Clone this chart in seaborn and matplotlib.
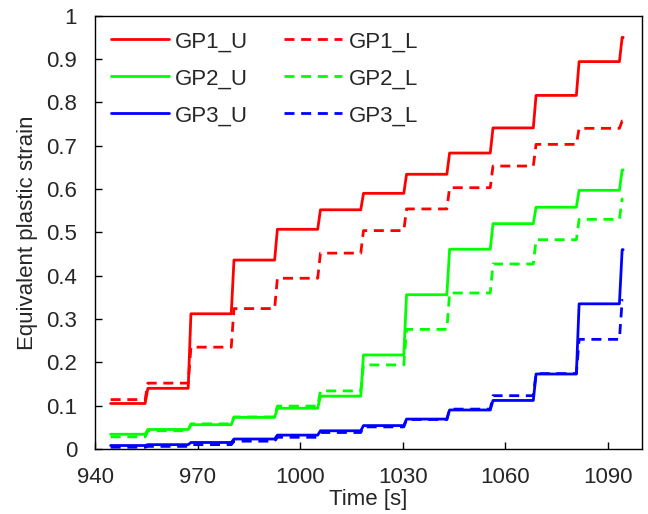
import numpy as np
import pandas as pd
import matplotlib
matplotlib.use("Agg")
import matplotlib.pyplot as plt
import seaborn as sns

# Load-step times (s) at which the strain increments, plus start/end of record
start_time = 944.5
end_time = 1094.5
step_times = [955.0, 967.6, 980.2, 992.9, 1005.5, 1018.1,
              1030.7, 1043.3, 1056.0, 1068.6, 1081.2, 1093.8]

# Equivalent plastic strain level held between load steps
gp1_u = [0.105, 0.140, 0.312, 0.436, 0.507, 0.552, 0.590,
         0.634, 0.683, 0.741, 0.816, 0.894, 0.950]
gp1_l = [0.114, 0.152, 0.235, 0.324, 0.394, 0.452, 0.504,
         0.554, 0.603, 0.653, 0.703, 0.740, 0.757]
gp2_u = [0.034, 0.045, 0.056, 0.073, 0.094, 0.122, 0.217,
         0.356, 0.461, 0.520, 0.558, 0.597, 0.644]
gp2_l = [0.028, 0.042, 0.058, 0.074, 0.099, 0.134, 0.194,
         0.276, 0.360, 0.427, 0.483, 0.530, 0.577]
gp3_u = [0.008, 0.010, 0.015, 0.023, 0.032, 0.042, 0.054,
         0.069, 0.090, 0.112, 0.173, 0.335, 0.460]
gp3_l = [0.004, 0.006, 0.010, 0.018, 0.027, 0.038, 0.051,
         0.068, 0.092, 0.123, 0.174, 0.253, 0.343]

series = [
    ("GP1_U", gp1_u, "#ff0000", "-"),
    ("GP2_U", gp2_u, "#00ff00", "-"),
    ("GP3_U", gp3_u, "#0000ff", "-"),
    ("GP1_L", gp1_l, "#ff0000", "--"),
    ("GP2_L", gp2_l, "#00ff00", "--"),
    ("GP3_L", gp3_l, "#0000ff", "--"),
]

RISE = 0.8  # duration of each strain increment (s)


def step_path(levels):
    t = [start_time]
    v = [levels[0]]
    for k, ts in enumerate(step_times):
        t += [ts - RISE / 2, ts + RISE / 2]
        v += [levels[k], levels[k + 1]]
    t.append(end_time)
    v.append(levels[-1])
    return pd.DataFrame({"time": t, "strain": v})


sns.set_style("white")
plt.rcParams["font.family"] = ["Liberation Sans", "DejaVu Sans"]
FS = 16
plt.rcParams["font.size"] = FS

fig = plt.figure(figsize=(6.48, 5.14), dpi=100)
ax = fig.add_axes([0.147, 0.1265, 0.8437, 0.843])

draw_order = [0, 3, 1, 4, 2, 5]
handles = {}
for i in draw_order:
    name, levels, color, ls = series[i]
    df = step_path(levels)
    sns.lineplot(data=df, x="time", y="strain", ax=ax, color=color,
                 linewidth=2.0, sort=False, estimator=None, label=name)
    line = ax.get_lines()[-1]
    line.set_linestyle(ls)
    if ls == "--":
        line.set_dashes((3.6, 2.4))
    handles[name] = line

ax.set_xlim(940, 1100)
ax.set_ylim(0, 1)
ax.set_xticks([940, 970, 1000, 1030, 1060, 1090])
yt = [0, 0.1, 0.2, 0.3, 0.4, 0.5, 0.6, 0.7, 0.8, 0.9, 1.0]
ax.set_yticks(yt)
ax.set_yticklabels(["0" if v == 0 else ("1" if v == 1 else f"{v:.1f}") for v in yt])
ax.tick_params(direction="in", length=5, width=1, labelsize=FS,
               top=False, right=False, bottom=True, left=True, color="black")
ax.tick_params(axis="x", pad=13)
ax.tick_params(axis="y", pad=13)
ax.set_xlabel("Time [s]", fontsize=FS, labelpad=0.5)
ax.set_ylabel("Equivalent plastic strain", fontsize=FS, labelpad=6)
for s in ax.spines.values():
    s.set_color("black")
    s.set_linewidth(1.0)

order = [s[0] for s in series]
ax.legend([handles[n] for n in order], order, ncol=2, frameon=False,
          loc="upper left", bbox_to_anchor=(0.0, 1.0), fontsize=FS,
          handlelength=2.6, handletextpad=0.3, columnspacing=1.6,
          labelspacing=0.72, borderaxespad=0.3)

fig.savefig("out.png", dpi=100)
